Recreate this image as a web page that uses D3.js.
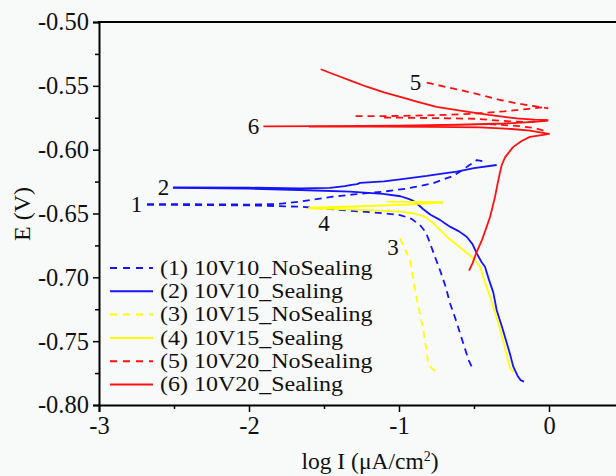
<!DOCTYPE html>
<html>
<head>
<meta charset="utf-8">
<script src="https://cdn.jsdelivr.net/npm/d3@7"></script>
<style>
  html, body { margin: 0; padding: 0; background: #f8f9f9; }
  svg { display: block; }
  svg text { font-family: 'Liberation Serif', 'Times New Roman', Times, serif !important; fill: #111; }
</style>
</head>
<body>
<div id="chart"></div>
<script>
// ---------- data ----------
const xTicks = [-3, -2, -1, 0];
const xTickLabels = ["-3", "-2", "-1", "0"];
const xMinorTicks = [-2.5, -1.5, -0.5];
const yTicks = [-0.80, -0.75, -0.70, -0.65, -0.60, -0.55, -0.50];
const yTickLabels = ["-0.80", "-0.75", "-0.70", "-0.65", "-0.60", "-0.55", "-0.50"];
const yMinorTicks = [-0.775, -0.725, -0.675, -0.625, -0.575, -0.525];

const seriesNames = ["(1) 10V10_NoSealing", "(2) 10V10_Sealing", "(3) 10V15_NoSealing",
                     "(4) 10V15_Sealing", "(5) 10V20_NoSealing", "(6) 10V20_Sealing"];
const seriesColors = ["#1414ff", "#1414ff", "#ffff00", "#ffff00", "#ff1010", "#ff1010"];
const seriesDashed = [true, false, true, false, true, false];
const curveLabels = ["1", "2", "3", "4", "5", "6"];

// each curve: list of segments of [log I, E] points
const curve1 = [
  [[-2.68,-0.6426],[-2.3,-0.6428],[-2.0,-0.6430],[-1.8,-0.6425],[-1.66,-0.6407],[-1.55,-0.6388],
   [-1.44,-0.6368],[-1.3,-0.6350],[-1.107,-0.6329],[-0.95,-0.6305],[-0.773,-0.6263],[-0.65,-0.6210],
   [-0.593,-0.6172],[-0.53,-0.6120],[-0.48,-0.6081],[-0.43,-0.6094]],
  [[-2.68,-0.6432],[-2.0,-0.6436],[-1.66,-0.6447],[-1.327,-0.6478],[-1.105,-0.6498],[-0.993,-0.6512],
   [-0.92,-0.6540],[-0.86,-0.6590],[-0.82,-0.6650],[-0.793,-0.6733],[-0.76,-0.6840],[-0.727,-0.6943],
   [-0.69,-0.7070],[-0.66,-0.7203],[-0.625,-0.7320],[-0.593,-0.7438],[-0.56,-0.7560],[-0.535,-0.7650],
   [-0.515,-0.7700]]
];
const curve2 = [
  [[-2.507,-0.6295],[-2.0,-0.6298],[-1.66,-0.6303],[-1.46,-0.6300],[-1.36,-0.6285],[-1.327,-0.6277],
   [-1.28,-0.6270],[-1.26,-0.6260],[-1.1,-0.6248],[-0.993,-0.6232],[-0.815,-0.6206],[-0.7,-0.6185],
   [-0.615,-0.6172],[-0.5,-0.6145],[-0.349,-0.6120]],
  [[-2.507,-0.6300],[-2.0,-0.6305],[-1.66,-0.6316],[-1.327,-0.6329],[-1.107,-0.6347],[-0.99,-0.6365],
   [-0.927,-0.6389],[-0.9,-0.6405],[-0.882,-0.6420],[-0.84,-0.6465],[-0.79,-0.6510],[-0.727,-0.6550],
   [-0.69,-0.6580],[-0.66,-0.6603],[-0.6,-0.6640],[-0.549,-0.6682],[-0.51,-0.6740],[-0.482,-0.6812],
   [-0.45,-0.6880],[-0.427,-0.6917],[-0.40,-0.7020],[-0.371,-0.7120],[-0.349,-0.7256],[-0.31,-0.7400],
   [-0.26,-0.7600],[-0.238,-0.7700],[-0.21,-0.7770],[-0.19,-0.7805],[-0.167,-0.7817]]
];
const curve3 = [
  [[-0.993,-0.6695],[-0.96,-0.6780],[-0.927,-0.6864],[-0.91,-0.6970],[-0.893,-0.7100],[-0.865,-0.7260],
   [-0.838,-0.7412],[-0.82,-0.7550],[-0.805,-0.7673],[-0.78,-0.7715],[-0.76,-0.7731]]
];
const curve4 = [
  [[-1.604,-0.6460],[-1.4,-0.6465],[-1.215,-0.6473],[-0.993,-0.6486],[-0.9,-0.6500],[-0.838,-0.6520],
   [-0.815,-0.6538],[-0.771,-0.6577],[-0.682,-0.6682],[-0.571,-0.6786],[-0.505,-0.6851],[-0.46,-0.6917],
   [-0.43,-0.7030],[-0.393,-0.7152],[-0.35,-0.7310],[-0.3,-0.7520],[-0.26,-0.7712],[-0.238,-0.7740]],
  [[-1.604,-0.6455],[-1.3,-0.6445],[-0.993,-0.6433],[-0.707,-0.6415]],
  [[-1.082,-0.6407],[-0.9,-0.6410],[-0.705,-0.6412]]
];
const curve5 = [
  [[-0.815,-0.5475],[-0.593,-0.5533],[-0.44,-0.5575],[-0.327,-0.5611],[-0.215,-0.5637],[-0.107,-0.5658],
   [-0.005,-0.5676]],
  [[-1.29,-0.5738],[-1.0,-0.5736],[-0.7,-0.5728],[-0.5,-0.5718],[-0.3,-0.5700],[-0.15,-0.5682],[-0.01,-0.5665]],
  [[-1.1,-0.5748],[-0.8,-0.5752],[-0.5,-0.5758],[-0.3,-0.5775],[-0.15,-0.5785],[-0.01,-0.5770]],
  [[-0.4,-0.5800],[-0.2,-0.5815],[-0.1,-0.5830],[-0.01,-0.5860]]
];
const curve6 = [
  [[-1.522,-0.5370],[-1.4,-0.5425],[-1.31,-0.5465],[-1.215,-0.5507],[-1.1,-0.5552],[-0.95,-0.5600],
   [-0.882,-0.5624],[-0.75,-0.5665],[-0.549,-0.5702],[-0.4,-0.5728],[-0.215,-0.5755],[-0.1,-0.5765],
   [-0.005,-0.5768]],
  [[-1.904,-0.5818],[-1.5,-0.5816],[-1.0,-0.5812],[-0.6,-0.5805],[-0.3,-0.5795],[-0.1,-0.5783],[-0.005,-0.5772]],
  [[-1.6,-0.5820],[-1.2,-0.5820],[-0.8,-0.5822],[-0.46,-0.5825],[-0.25,-0.5838],[-0.127,-0.5851],
   [-0.04,-0.5868],[0,-0.5877],[-0.06,-0.5888],[-0.127,-0.5900],[-0.18,-0.5930],[-0.24,-0.5980],
   [-0.293,-0.6060],[-0.315,-0.6120],[-0.327,-0.6180],[-0.345,-0.6280],[-0.36,-0.6370],[-0.393,-0.6527],
   [-0.42,-0.6620],[-0.447,-0.6708],[-0.482,-0.6800],[-0.51,-0.6890],[-0.533,-0.6948]]
];
const curves = [curve1, curve2, curve3, curve4, curve5, curve6];
// label anchor points (data coords)
const labelPos = [[-2.75,-0.6426],[-2.57,-0.6296],[-1.04,-0.6770],[-1.5,-0.6580],[-0.89,-0.5475],[-1.97,-0.5818]];

// ---------- layout ----------
const W = 616, H = 476;
const FONT = "'Liberation Serif', 'Times New Roman', Times, serif";
const svg = d3.select("#chart").append("svg").attr("width", W).attr("height", H)
  .style("font-family", FONT);
const x = d3.scaleLinear().domain([-3, 0.5]).range([99, 624]);
const y = d3.scaleLinear().domain([-0.80, -0.50]).range([405, 22]);

svg.append("defs").append("clipPath").attr("id", "clip")
  .append("rect").attr("x", 99).attr("y", 22).attr("width", 525).attr("height", 383);

// curves
const line = d3.line().x(d => x(d[0])).y(d => y(d[1]));
const gCurves = svg.append("g").attr("clip-path", "url(#clip)");
curves.forEach((segs, i) => {
  segs.forEach(seg => {
    gCurves.append("path").datum(seg)
      .attr("d", line)
      .attr("fill", "none")
      .attr("stroke", seriesColors[i])
      .attr("stroke-width", 1.8)
      .attr("stroke-linejoin", "round")
      .attr("stroke-dasharray", seriesDashed[i] ? "7,5" : null);
  });
});

// curve labels
labelPos.forEach((p, i) => {
  svg.append("text")
    .attr("x", x(p[0])).attr("y", y(p[1]))
    .attr("text-anchor", "middle").attr("dominant-baseline", "central")
    .attr("font-size", 23).text(curveLabels[i]);
});

// axes
const xAxis = svg.append("g").attr("transform", "translate(0,405)")
  .call(d3.axisBottom(x).tickValues(xTicks).tickSize(7).tickPadding(3)
        .tickFormat((d, i) => xTickLabels[i]));
svg.append("g").attr("transform", "translate(0,405)")
  .call(d3.axisBottom(x).tickValues(xMinorTicks).tickSize(4).tickFormat(""))
  .select(".domain").remove();
const yAxis = svg.append("g").attr("transform", "translate(99,0)")
  .call(d3.axisLeft(y).tickValues(yTicks).tickSize(6).tickPadding(4)
        .tickFormat((d, i) => yTickLabels[i]));
svg.append("g").attr("transform", "translate(99,0)")
  .call(d3.axisLeft(y).tickValues(yMinorTicks).tickSize(4).tickFormat(""))
  .select(".domain").remove();

svg.selectAll("g").attr("font-family", null);
svg.selectAll(".domain").attr("stroke", "#000").attr("stroke-width", 2);
svg.selectAll(".tick line").attr("stroke", "#000").attr("stroke-width", 1.5);
svg.selectAll(".tick text").style("font-family", FONT)
  .attr("font-size", 24.5).attr("fill", "#111");
xAxis.selectAll(".tick text").attr("dy", "0.76em");

// top frame line
svg.append("line").attr("x1", 98).attr("x2", 616).attr("y1", 22).attr("y2", 22)
  .attr("stroke", "#000").attr("stroke-width", 2);

// axis titles
svg.append("text").attr("x", 370).attr("y", 469).attr("text-anchor", "middle")
  .attr("font-size", 23.5).html("log I (μA/cm<tspan dy='-8' font-size='14'>2</tspan><tspan dy='8'>)</tspan>");
svg.append("text").attr("transform", "translate(30,214) rotate(-90)")
  .attr("text-anchor", "middle").attr("font-size", 24).text("E (V)");

// legend
const legend = svg.append("g");
seriesNames.forEach((name, i) => {
  const ly = 268 + i * 23.3;
  legend.append("line").attr("x1", 110).attr("x2", 153).attr("y1", ly).attr("y2", ly)
    .attr("stroke", seriesColors[i]).attr("stroke-width", 2)
    .attr("stroke-dasharray", seriesDashed[i] ? "7,6" : null);
  legend.append("text").attr("transform", `translate(160,${ly}) scale(1.17,1)`)
    .attr("dominant-baseline", "central")
    .attr("font-size", 20.5).text(name);
});
</script>
</body>
</html>
